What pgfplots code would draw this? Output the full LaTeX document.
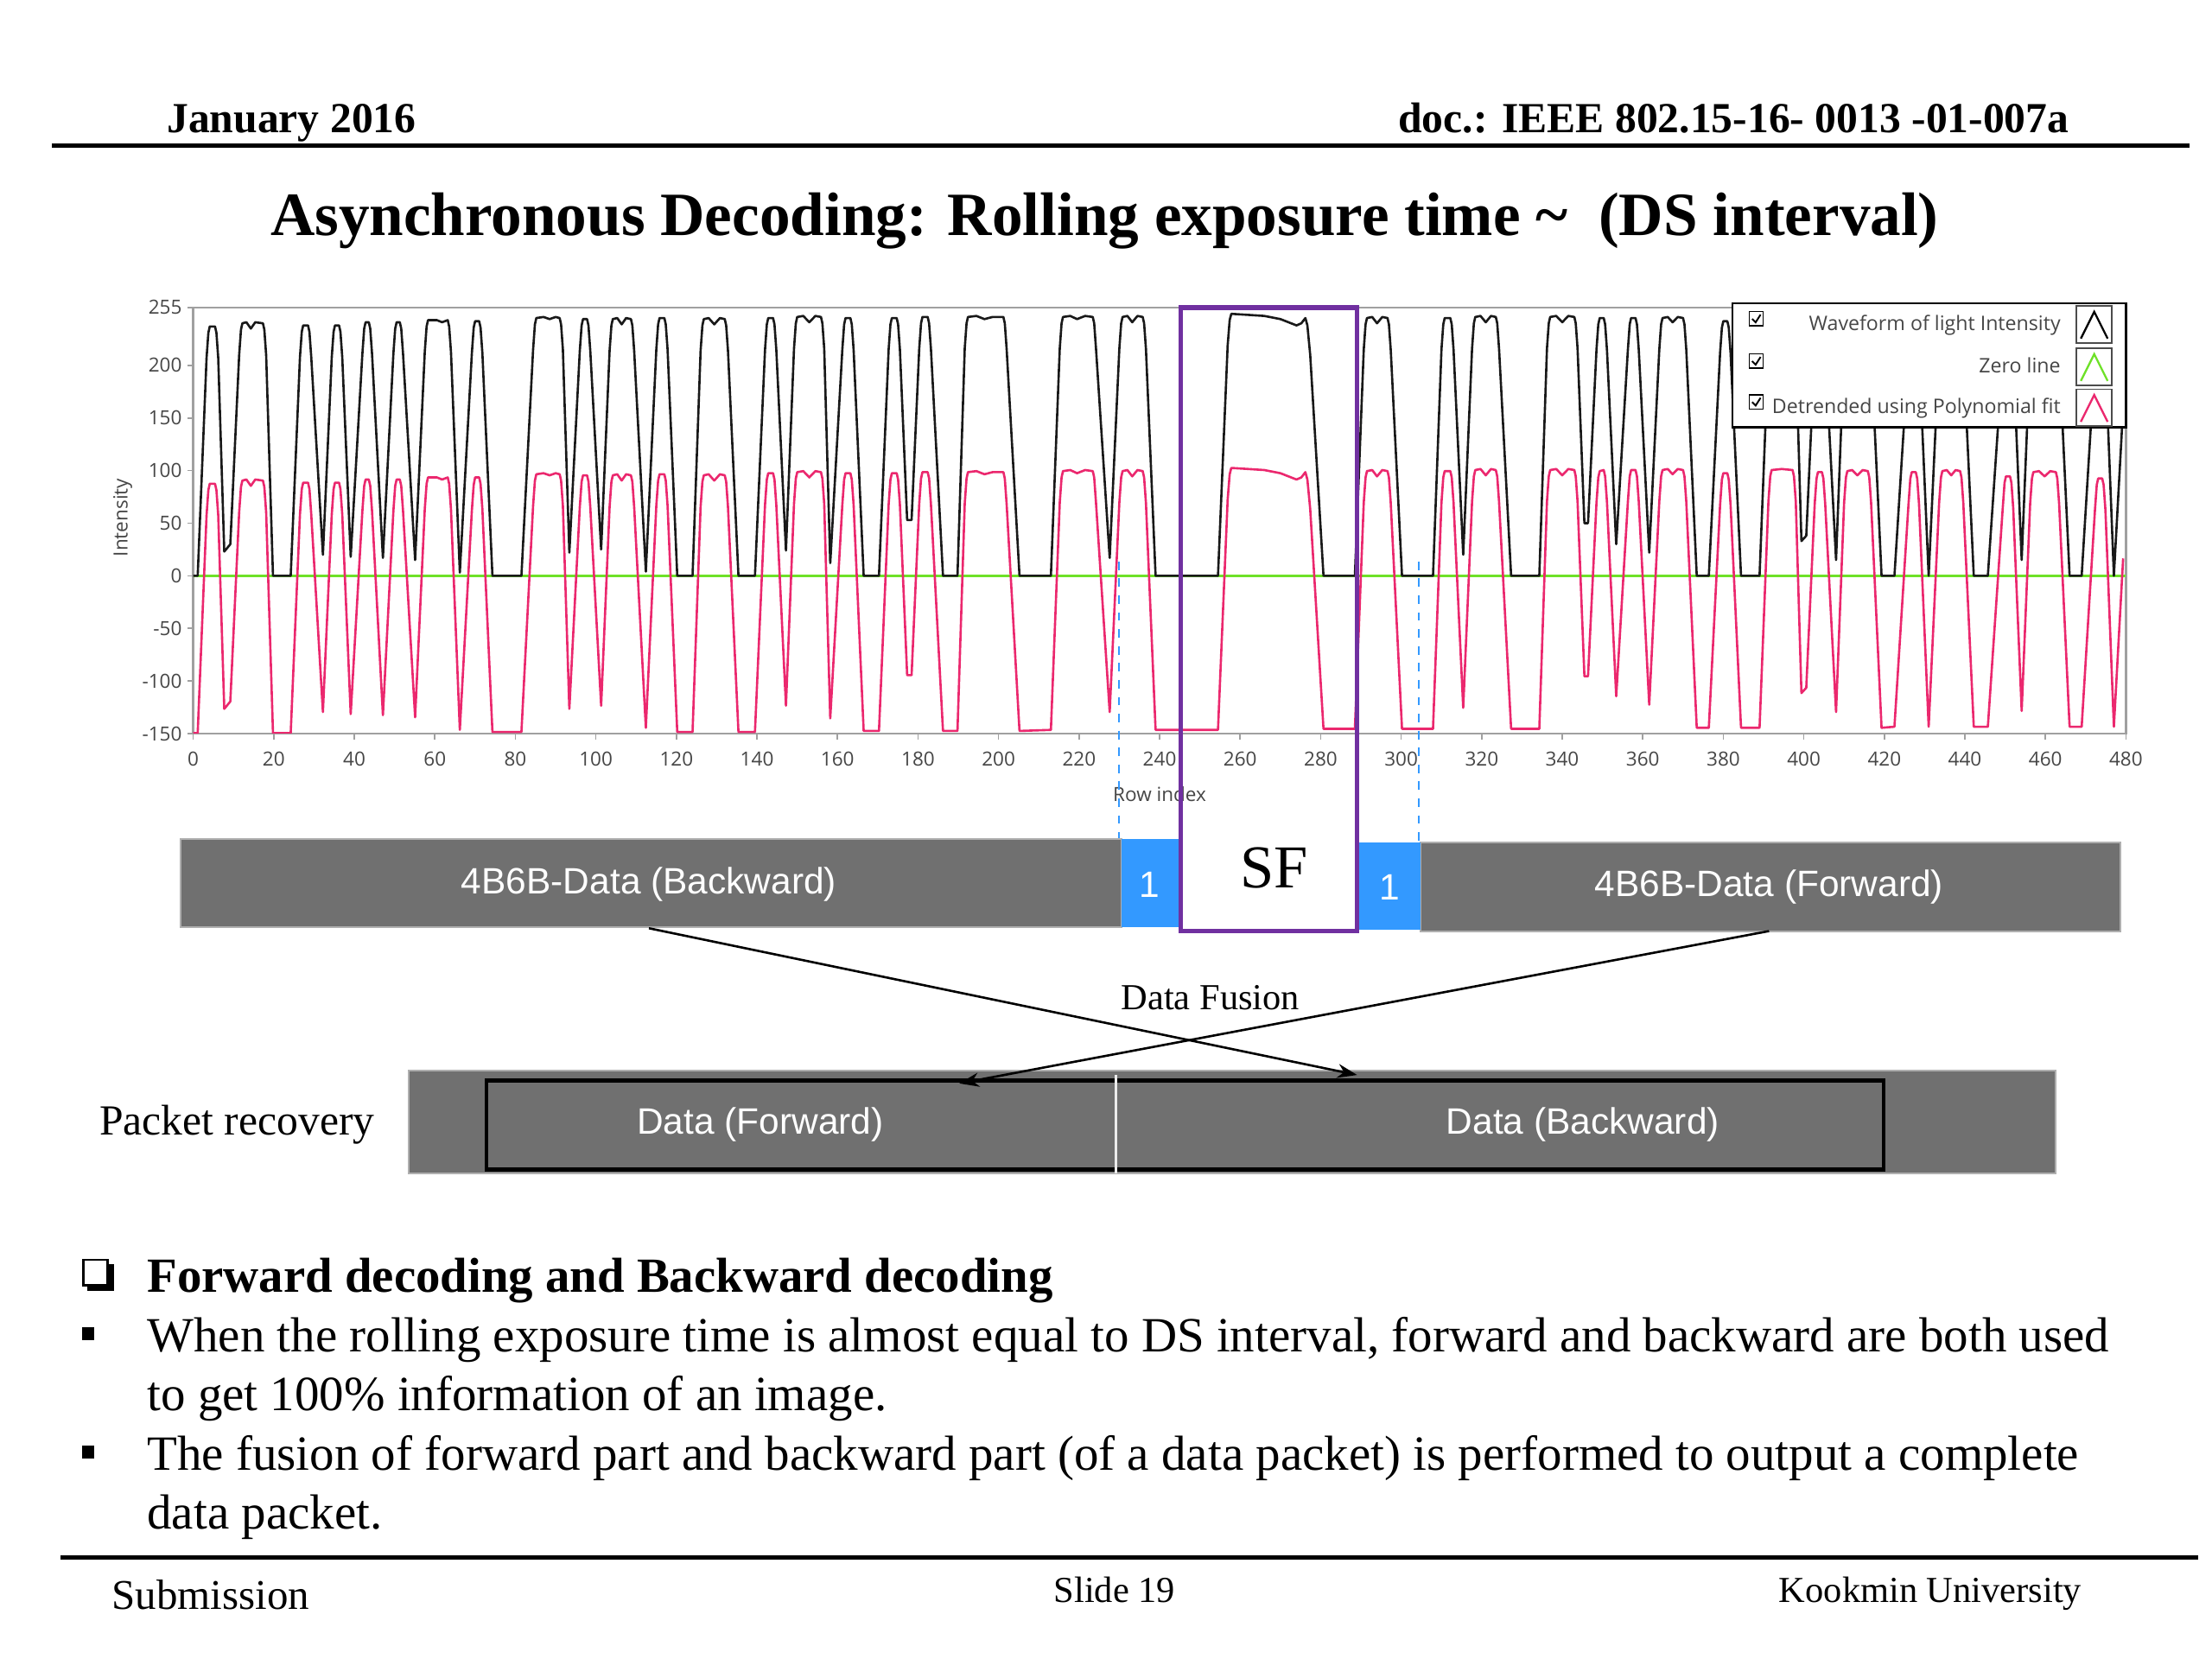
\documentclass[border=0pt]{standalone}
\usepackage{fontspec}
\setmainfont{Liberation Serif}
\newfontfamily\plotfont{Open Sans}
\newfontfamily\arialfont{Liberation Sans}
\usepackage{pgfplots}
\pgfplotsset{compat=1.18}
\usepackage{pgfplotstable}
\usetikzlibrary{arrows.meta}

\definecolor{wavered}{RGB}{235,40,110}
\definecolor{zerogreen}{RGB}{110,225,40}
\definecolor{framegray}{RGB}{160,160,160}
\definecolor{labelgray}{RGB}{70,70,70}
\definecolor{bargray}{RGB}{112,112,112}
\definecolor{baredge}{RGB}{175,175,175}
\definecolor{boxblue}{RGB}{51,153,255}
\definecolor{sfpurple}{RGB}{112,48,160}

% row index, raw waveform, detrended waveform
\pgfplotstableread{
x b r
0 0 -149.5
1.1 0 -149.5
3.3 207 57.5
3.75 231 81.5
4.1 237 87.5
5.4 237 87.5
5.75 231 81.5
6.2 207 57.5
7.7 23 -126.5
9.2 30 -119.5
11.4 210 60.5
11.85 234 84.5
12.2 240 90.5
13.2 241 91.5
14.3 235 85.5
15.4 241 91.5
17.3 240 90.5
17.65 234 84.5
18.1 210 60.5
19.8 0 -149.5
24.2 0 -149.5
26.5 208 58.5
26.95 232 82.5
27.3 238 88.5
28.5 238 88.5
28.85 232 82.5
29.3 208 58.5
32.2 20 -129.5
34.4 208 58.5
34.85 232 82.5
35.2 238 88.5
36.2 238 88.5
36.55 232 82.5
37.0 208 58.5
39.1 18 -131.5
42.0 211 61.5
42.45 235 85.5
42.8 241 91.5
43.6 241 91.5
43.95 235 85.5
44.4 211 61.5
47.1 17 -132.5
49.7 211 61.5
50.15 235 85.5
50.5 241 91.5
51.3 241 91.5
51.65 235 85.5
52.1 211 61.5
55.1 15 -134.5
57.5 213 63.5
57.95 237 87.5
58.3 243 93.5
60.5 243 93.5
61.8 241 91.5
63.2 243 93.5
63.55 237 87.5
64.0 213 63.5
66.2 3 -146.5
69.2 212 62.5
69.65 236 86.5
70.0 242 93.5
71.0 242 93.5
71.35 236 87.5
71.8 212 63.5
74.3 0 -148.5
81.5 0 -148.5
84.4 215 66.5
84.85 239 90.5
85.2 245 96.5
87.0 246 97.5
88.5 244 95.5
90.0 246 97.5
91.0 245 96.5
91.35 239 90.5
91.8 215 66.5
93.4 22 -126.5
96.0 214 65.5
96.45 238 89.5
96.8 244 95.5
97.8 244 95.5
98.15 238 89.5
98.6 214 65.5
101.3 25 -123.5
103.4 214 65.5
103.85 238 89.5
104.2 244 95.5
105.3 245 96.5
106.4 239 90.5
107.5 245 96.5
108.7 244 95.5
109.05 238 89.5
109.5 214 65.5
112.4 4 -144.5
115.0 215 66.5
115.45 239 90.5
115.8 245 96.5
117.0 245 96.5
117.35 239 90.5
117.8 215 66.5
120.2 0 -148.5
124.0 0 -148.5
126.0 214 65.5
126.45 238 89.5
126.8 244 95.5
128.0 245 96.5
129.4 239 90.5
130.8 245 96.5
132.0 244 95.5
132.35 238 89.5
132.8 214 65.5
135.4 0 -148.5
139.5 0 -148.5
142.0 215 67.5
142.45 239 91.5
142.8 245 97.5
144.0 245 97.5
144.35 239 91.5
144.8 215 67.5
147.2 24 -123.5
149.2 216 68.5
149.65 240 92.5
150.0 246 98.5
151.5 247 99.5
153.0 241 93.5
154.5 247 99.5
155.9 246 98.5
156.25 240 92.5
156.7 216 68.5
158.2 12 -135.5
161.2 215 67.5
161.65 239 91.5
162.0 245 97.5
163.2 245 97.5
163.55 239 91.5
164.0 215 67.5
166.5 0 -147.5
170.3 0 -147.5
172.7 215 67.5
173.15 239 91.5
173.5 245 97.5
174.7 245 97.5
175.05 239 91.5
175.5 215 67.5
177.3 53 -94.5
178.4 53 -94.5
180.3 216 68.5
180.75 240 92.5
181.1 246 98.5
182.4 246 98.5
182.75 240 92.5
183.2 216 68.5
186.2 0 -147.5
189.8 0 -147.5
191.6 216 68.5
192.05 240 92.5
192.4 246 98.5
194.5 247 99.5
196.5 244 96.5
198.5 246 98.5
201.2 246 98.5
201.55 240 92.5
202.0 216 68.5
205.2 0 -147.5
213.0 0 -146.5
215.2 216 69.5
215.65 240 93.5
216.0 246 99.5
217.8 247 100.5
219.5 244 97.5
221.5 247 100.5
223.4 246 99.5
223.75 240 93.5
224.2 216 69.5
227.6 17 -129.5
230.0 216 69.5
230.45 240 93.5
230.8 246 99.5
232.0 247 100.5
233.2 241 94.5
234.5 247 100.5
235.8 246 99.5
236.15 240 93.5
236.6 216 69.5
239.0 0 -146.5
254.5 0 -146.5
256.9 219 72.5
257.4 243 96.5
257.8 249 102.5
262.0 248 101.5
266.0 247 100.5
270.0 244 97.5
274.0 238 91.5
275.2 240 93.5
276.2 245 98.5
276.7 238 91.5
277.4 210 63.5
280.7 0 -145.5
288.5 0 -145.5
290.7 215 69.5
291.15 239 93.5
291.5 245 99.5
292.8 246 100.5
294.0 240 94.5
295.3 246 100.5
296.6 245 99.5
296.95 239 93.5
297.4 215 69.5
300.2 0 -145.5
307.9 0 -145.5
310.0 215 69.5
310.45 239 93.5
310.8 245 99.5
312.2 245 99.5
312.55 239 93.5
313.0 215 69.5
315.4 20 -125.5
317.6 216 70.5
318.05 240 94.5
318.4 246 100.5
319.7 247 101.5
321.0 241 95.5
322.3 247 101.5
323.5 246 100.5
323.85 240 94.5
324.3 216 70.5
327.3 0 -145.5
334.3 0 -145.5
336.2 216 70.5
336.65 240 94.5
337.0 246 100.5
338.5 247 101.5
340.0 241 95.5
341.5 247 101.5
343.0 246 100.5
343.35 240 94.5
343.8 216 70.5
345.5 50 -95.5
346.4 50 -95.5
348.5 215 69.5
348.95 239 93.5
349.3 245 99.5
350.3 245 100.5
350.65 239 94.5
351.1 215 70.5
353.4 30 -114.5
356.3 215 70.5
356.75 239 94.5
357.1 245 100.5
358.2 245 100.5
358.55 239 94.5
359.0 215 70.5
361.6 22 -122.5
364.1 215 70.5
364.55 239 94.5
364.9 245 100.5
366.2 246 101.5
367.4 241 96.5
368.7 246 101.5
370.0 245 100.5
370.35 239 94.5
370.8 215 70.5
373.4 0 -144.5
376.4 0 -144.5
379.2 212 67.5
379.65 236 91.5
380.0 242 97.5
381.0 242 97.5
381.35 236 91.5
381.8 212 67.5
384.4 0 -144.5
389.0 0 -144.5
391.2 215 70.5
391.65 239 94.5
392.0 245 100.5
394.5 246 101.5
397.2 245 100.5
397.55 239 94.5
398.0 215 70.5
399.4 33 -111.5
400.6 38 -106.5
402.7 213 68.5
403.15 237 92.5
403.5 243 98.5
404.5 243 98.5
404.85 237 92.5
405.3 213 68.5
408.0 15 -129.5
410.0 214 69.5
410.45 238 93.5
410.8 244 99.5
412.0 245 100.5
413.3 240 95.5
414.6 245 100.5
415.9 244 99.5
416.25 238 93.5
416.7 214 69.5
419.3 0 -144.5
422.5 0 -143.5
426.0 212 68.5
426.45 236 92.5
426.8 242 98.5
427.8 242 98.5
428.15 236 92.5
428.6 212 68.5
431.0 0 -143.5
433.6 213 69.5
434.05 237 93.5
434.4 243 99.5
435.5 244 100.5
436.6 239 95.5
437.7 244 100.5
438.8 243 99.5
439.15 237 93.5
439.6 213 69.5
442.2 0 -143.5
445.7 0 -143.5
449.4 208 64.5
449.85 232 88.5
450.2 238 94.5
451.2 238 94.5
451.55 232 88.5
452.0 208 64.5
454.1 15 -128.5
456.2 212 68.5
456.65 236 92.5
457.0 242 98.5
458.4 243 99.5
459.8 238 94.5
461.2 243 99.5
462.6 242 98.5
462.95 236 92.5
463.4 212 68.5
466.0 0 -143.5
469.0 0 -143.5
472.3 206 62.5
472.75 230 86.5
473.1 236 92.5
474.1 236 92.5
474.45 230 86.5
474.9 206 62.5
477.0 0 -143.5
479.3 160 16.5
}\wavedata

\begin{document}
\begin{tikzpicture}
% page frame and slide text, in slide pixels (1568 x 1176)
\begin{scope}[x=0.5pt,y=-0.5pt]
\useasboundingbox (0,0) rectangle (1568,1176);
\fill[white] (0,0) rectangle (1568,1176);
\node[anchor=base west,inner sep=0,font=\bfseries\fontsize{15.2}{18}\selectfont] at (118,94) {January 2016};
\node[anchor=base east,inner sep=0,font=\bfseries\fontsize{15.2}{18}\selectfont] at (1467,94) {doc.: IEEE 802.15-16- 0013 -01-007a};
\draw[line width=1.6pt] (37,103) -- (1552,103);
\node[anchor=base,inner sep=0,font=\bfseries\fontsize{21.8}{26}\selectfont] at (783,167)
  {Asynchronous Decoding: Rolling exposure time \textasciitilde\ \ (DS interval)};
\end{scope}

\begin{axis}[
  at={(68.5pt,-260pt)}, anchor=south west,
  scale only axis, width=685pt, height=151pt,
  xmin=0, xmax=480, ymin=-150, ymax=255,
  xtick={0,20,...,480},
  ytick={-150,-100,-50,0,50,100,150,200,255},
  axis line style={draw=framegray, line width=0.8pt},
  tick align=outside, tick pos=left,
  major tick length=2pt,
  tick style={framegray, line width=0.5pt},
  ticklabel style={font=\plotfont\fontsize{6.9}{7}\selectfont, text=labelgray},
  xticklabel style={yshift=-1pt},
  yticklabel style={xshift=1.5pt},
  /pgf/number format/assume math mode=true,
  xlabel={Row index}, ylabel={Intensity},
  label style={font=\plotfont\fontsize{6.9}{7}\selectfont, text=labelgray},
  xlabel style={at={(axis description cs:0.5,0)}, anchor=center, yshift=-21.5pt},
  ylabel style={at={(axis description cs:0,0.507)}, anchor=center, yshift=25pt},
]
\addplot[zerogreen, line width=1.1pt, mark=none] coordinates {(0,0) (480,0)};
\addplot[wavered, line width=0.8pt, mark=none, line join=round] table[x=x, y=r] {\wavedata};
\addplot[black!90, line width=0.8pt, mark=none, line join=round] table[x=x, y=b] {\wavedata};
\end{axis}

\begin{scope}[x=0.5pt,y=-0.5pt]
% legend
\draw[fill=white, line width=0.8pt] (1228,215) rectangle (1507,303);
\foreach \yy/\txt/\col in {230/Waveform of light Intensity/black, 260/Zero line/zerogreen, 289/Detrended using Polynomial fit/wavered} {
  \draw[line width=0.4pt] (1240,\yy-9) rectangle (1250,\yy+1);
  \draw[line width=0.6pt] (1242,\yy-4) -- (1244.5,\yy-1.5) -- (1248,\yy-7);
  \node[anchor=base east, inner sep=0, font=\plotfont\fontsize{7.1}{8}\selectfont, text=labelgray] at (1461,\yy+4) {\txt};
  \draw[line width=0.5pt, black!70] (1472,\yy-13) rectangle (1497,\yy+13);
  \draw[\col, line width=0.7pt] (1475,\yy+10) -- (1484.5,\yy-9) -- (1494,\yy+10);
}
% dashed guides
\draw[boxblue, dashed, line width=0.6pt] (793,398) -- (793,595);
\draw[boxblue, dashed, line width=0.6pt] (1006,398) -- (1006,597);
% frame bars
\fill[bargray] (128,595) rectangle (795,657);
\draw[baredge, line width=0.6pt] (128,595) rectangle (795,657);
\fill[bargray] (1007,597) rectangle (1503,660);
\draw[baredge, line width=0.6pt] (1007,597) rectangle (1503,660);
\fill[boxblue] (795,595) rectangle (837,657);
\fill[boxblue] (962,597) rectangle (1007,659);
\fill[white] (837,595) rectangle (962,660);
\node[font=\arialfont\fontsize{13}{15}\selectfont, text=white] at (460,627) {4B6B-Data (Backward)};
\node[font=\arialfont\fontsize{13}{15}\selectfont, text=white] at (1254,629) {4B6B-Data (Forward)};
\node[font=\arialfont\fontsize{13}{15}\selectfont, text=white] at (815,627) {1};
\node[font=\arialfont\fontsize{13}{15}\selectfont, text=white] at (985,629) {1};
\node[font=\fontsize{21.6}{24}\selectfont] at (903,615) {SF};
\draw[sfpurple, line width=1.7pt] (837,218) rectangle (962,660);
% packet recovery bar
\fill[bargray] (290,759) rectangle (1457,832);
\draw[baredge, line width=0.6pt] (290,759) rectangle (1457,832);
\draw[black, line width=1.3pt] (345,766) rectangle (1335,829);
\draw[white!85!gray, line width=1pt] (791,762) -- (791,832);
\node[font=\arialfont\fontsize{13}{15}\selectfont, text=white] at (539,797) {Data (Forward)};
\node[font=\arialfont\fontsize{13}{15}\selectfont, text=white] at (1122,797) {Data (Backward)};
\node[font=\fontsize{15.2}{18}\selectfont] at (168,797) {Packet recovery};
% fusion arrows
\draw[line width=0.8pt, -{Stealth[length=7pt,width=5pt]}] (460,658) -- (962,762);
\draw[line width=0.8pt, -{Stealth[length=7pt,width=5pt]}] (1254,660) -- (680,768);
\node[font=\fontsize{13}{15}\selectfont, inner sep=1pt] at (858,707) {Data Fusion};
% bullet text
\draw[line width=0.9pt] (59,893) rectangle (76,911);
\draw[line width=2pt] (62,913) -- (79,913) -- (79,896);
\node[anchor=base west, inner sep=0, font=\bfseries\fontsize{17.4}{21}\selectfont] at (104,916) {Forward decoding and Backward decoding};
\fill (58,941) rectangle (67,950);
\fill (58,1025) rectangle (67,1034);
\node[anchor=base west, inner sep=0, font=\fontsize{17.45}{21}\selectfont] at (104,958) {When the rolling exposure time is almost equal to DS interval, forward and backward are both used};
\node[anchor=base west, inner sep=0, font=\fontsize{17.45}{21}\selectfont] at (104,1000) {to get 100\% information of an image.};
\node[anchor=base west, inner sep=0, font=\fontsize{17.45}{21}\selectfont] at (104,1042) {The fusion of forward part and backward part (of a data packet) is performed to output a complete};
\node[anchor=base west, inner sep=0, font=\fontsize{17.45}{21}\selectfont] at (104,1084) {data packet.};
% footer
\draw[line width=1.6pt] (43,1104) -- (1558,1104);
\node[anchor=base west, inner sep=0, font=\fontsize{15}{18}\selectfont] at (79,1141) {Submission};
\node[anchor=base, inner sep=0, font=\fontsize{13}{15}\selectfont] at (790,1136) {Slide 19};
\node[anchor=base east, inner sep=0, font=\fontsize{13}{15}\selectfont] at (1476,1136) {Kookmin University};
\end{scope}
\end{tikzpicture}
\end{document}
